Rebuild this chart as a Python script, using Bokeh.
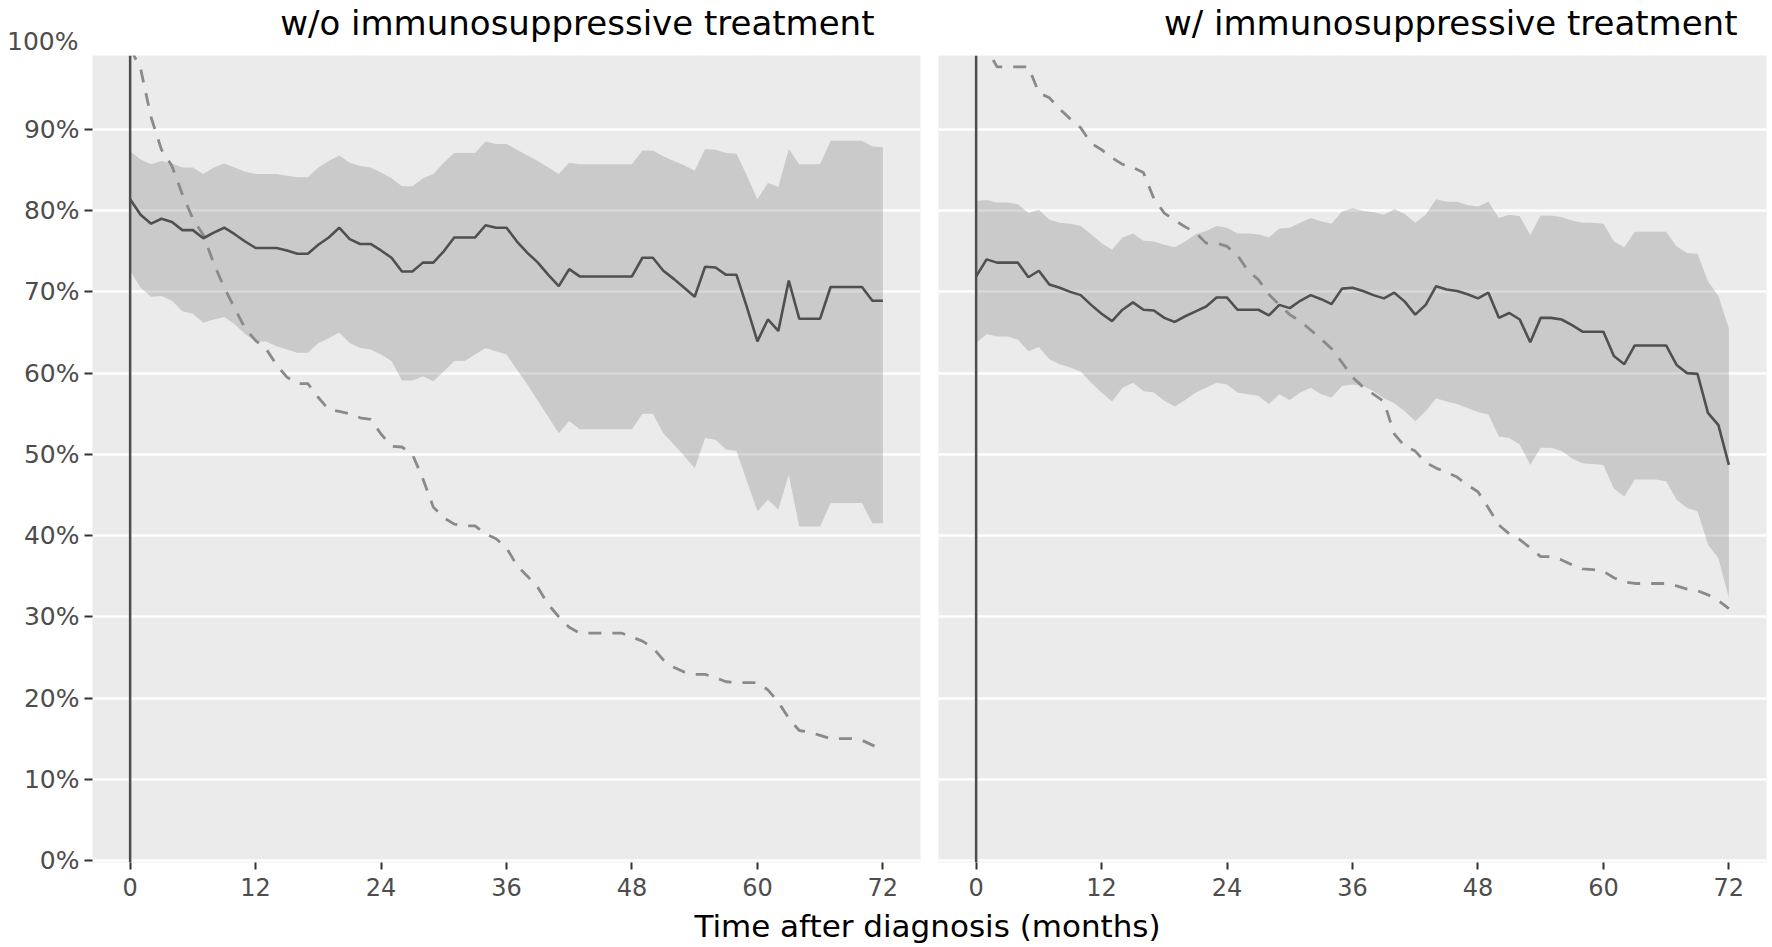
import numpy as np
from bokeh.plotting import figure
from bokeh.models import (FixedTicker, NumeralTickFormatter, Range1d, Span,
                          Label, ColumnDataSource)
from bokeh.layouts import row, column
from bokeh.embed import file_html
from bokeh.resources import INLINE

# ---------------- data ----------------
months = list(range(73))
x_ticks = [0, 12, 24, 36, 48, 60, 72]
y_ticks = [0.0, 0.1, 0.2, 0.3, 0.4, 0.5, 0.6, 0.7, 0.8, 0.9]
panel_titles = ["w/o immunosuppressive treatment", "w/ immunosuppressive treatment"]
x_label = "Time after diagnosis (months)"
top_label = "100%"
vline_at = 0

# left panel (w/o immunosuppressive treatment), values in %
wo_est = [81.4, 79.5, 78.4, 79.0, 78.6, 77.6, 77.6, 76.6, 77.3, 77.9, 77.1, 76.2, 75.4,
          75.4, 75.4, 75.1, 74.7, 74.7, 75.8, 76.7, 77.9, 76.5, 75.9, 75.9, 75.1,
          74.2, 72.5, 72.5, 73.6, 73.6, 75.0, 76.7, 76.7, 76.7, 78.2, 77.9, 77.9,
          76.2, 74.8, 73.6, 72.1, 70.7, 72.8, 71.9, 71.9, 71.9, 71.9, 71.9, 71.9,
          74.2, 74.2, 72.6, 71.6, 70.5, 69.4, 73.1, 73.0, 72.1, 72.1, 68.1, 63.9,
          66.6, 65.2, 71.4, 66.7, 66.7, 66.7, 70.6, 70.6, 70.6, 70.6, 68.9, 68.9]
wo_upper = [87.3, 86.3, 85.7, 86.1, 85.8, 85.3, 85.3, 84.5, 85.3, 85.8, 85.3, 84.8, 84.5,
            84.5, 84.5, 84.3, 84.1, 84.1, 85.3, 86.1, 86.8, 85.9, 85.5, 85.3, 84.7,
            84.0, 83.0, 83.0, 84.0, 84.5, 85.9, 87.1, 87.1, 87.1, 88.5, 88.2, 88.2,
            87.5, 86.8, 86.1, 85.3, 84.5, 85.9, 85.7, 85.7, 85.7, 85.7, 85.7, 85.7,
            87.4, 87.4, 86.7, 86.1, 85.6, 84.9, 87.6, 87.5, 87.1, 87.0, 84.3, 81.4,
            83.4, 82.9, 87.6, 85.7, 85.7, 85.7, 88.6, 88.6, 88.6, 88.6, 87.9, 87.8]
wo_lower = [72.6, 70.5, 69.4, 69.5, 68.9, 67.6, 67.3, 66.2, 66.6, 66.9, 66.0, 64.8, 63.9,
            63.9, 63.3, 62.9, 62.5, 62.5, 63.7, 64.3, 65.0, 63.7, 63.1, 62.9, 62.3,
            61.5, 59.1, 59.1, 59.6, 59.0, 60.2, 61.5, 61.5, 62.3, 63.1, 62.7, 62.3,
            60.4, 58.6, 56.6, 54.6, 52.6, 54.1, 53.1, 53.1, 53.1, 53.1, 53.1, 53.1,
            55.0, 55.0, 52.6, 51.2, 49.8, 48.3, 52.0, 51.8, 50.6, 50.4, 46.7, 43.0,
            44.4, 43.2, 47.5, 41.1, 41.1, 41.1, 44.0, 44.0, 44.0, 44.0, 41.5, 41.5]
wo_ref = [100.0, 97.5, 91.5, 87.5, 85.5, 82.0, 79.0, 77.0, 73.5, 70.5, 68.0, 65.5, 64.0,
          63.0, 61.0, 59.5, 58.7, 58.7, 57.0, 55.5, 55.3, 55.0, 54.5, 54.3, 52.5,
          51.0, 50.9, 50.0, 47.0, 43.5, 42.2, 41.4, 41.2, 41.2, 40.2, 39.6, 38.5,
          36.3, 35.0, 33.6, 31.5, 30.0, 28.7, 28.0, 28.0, 28.0, 28.0, 28.0, 27.5,
          27.0, 26.2, 24.7, 23.8, 23.2, 22.9, 22.9, 22.5, 22.0, 21.9, 21.9, 21.9,
          21.0, 19.5, 17.5, 16.0, 15.8, 15.4, 15.0, 15.0, 15.0, 14.8, 14.2, 13.6]

# right panel (w/ immunosuppressive treatment), values in %
w_est = [71.9, 74.0, 73.6, 73.6, 73.6, 71.8, 72.6, 70.9, 70.5, 70.0, 69.6, 68.4, 67.3,
         66.4, 67.8, 68.7, 67.8, 67.7, 66.8, 66.3, 67.0, 67.6, 68.2, 69.3, 69.3,
         67.8, 67.8, 67.8, 67.1, 68.4, 68.0, 68.9, 69.6, 69.1, 68.5, 70.4, 70.5,
         70.1, 69.6, 69.2, 69.9, 68.8, 67.2, 68.4, 70.7, 70.3, 70.1, 69.7, 69.2,
         69.9, 66.8, 67.4, 66.6, 63.8, 66.8, 66.8, 66.6, 65.9, 65.1, 65.1, 65.1,
         62.1, 61.1, 63.4, 63.4, 63.4, 63.4, 61.0, 60.0, 59.9, 55.1, 53.6, 48.7]
w_upper = [81.2, 81.3, 81.0, 81.0, 80.8, 79.7, 80.1, 78.9, 78.5, 78.4, 78.1, 77.1, 76.0,
           75.2, 76.7, 77.2, 76.3, 76.2, 75.8, 75.5, 76.2, 77.1, 77.5, 78.1, 77.9,
           77.2, 77.2, 77.1, 76.7, 77.8, 77.9, 78.5, 79.1, 78.7, 78.4, 79.9, 80.3,
           80.0, 79.8, 79.5, 80.2, 79.6, 78.5, 79.5, 81.4, 81.1, 81.1, 80.7, 80.5,
           81.1, 79.1, 79.5, 79.3, 77.0, 79.4, 79.4, 79.2, 78.8, 78.5, 78.5, 78.4,
           76.2, 75.5, 77.4, 77.4, 77.4, 77.4, 75.6, 74.8, 74.7, 71.3, 69.5, 65.5]
w_lower = [63.7, 64.8, 64.5, 64.5, 64.1, 62.7, 63.2, 61.7, 61.1, 60.7, 60.2, 58.8, 57.6,
           56.5, 58.2, 58.8, 57.8, 57.6, 56.6, 55.9, 56.7, 57.6, 58.2, 58.8, 58.6,
           57.6, 57.4, 57.2, 56.2, 57.4, 56.7, 57.6, 58.2, 57.4, 57.0, 58.4, 58.6,
           58.4, 57.8, 56.9, 56.3, 55.3, 54.1, 55.3, 56.9, 56.5, 56.2, 55.7, 55.2,
           54.9, 52.2, 52.0, 51.2, 48.7, 50.8, 50.8, 50.4, 49.5, 48.9, 48.8, 48.7,
           45.8, 44.8, 46.9, 46.9, 46.9, 46.7, 44.4, 43.4, 43.0, 38.9, 37.2, 32.3]
w_ref = [100.0, 100.0, 97.7, 97.7, 97.7, 97.7, 94.5, 93.9, 92.5, 91.3, 90.2, 88.3, 87.5,
         86.5, 85.7, 85.3, 84.7, 81.5, 79.7, 78.8, 78.0, 77.3, 76.0, 76.0, 75.6,
         74.5, 72.6, 71.5, 69.7, 68.4, 67.2, 66.4, 65.3, 64.2, 63.0, 61.3, 59.5,
         58.3, 57.4, 56.5, 52.5, 51.0, 50.4, 49.0, 48.3, 47.8, 47.2, 46.2, 45.4,
         43.4, 41.3, 40.2, 39.5, 38.5, 37.4, 37.4, 37.0, 36.4, 35.9, 35.8, 35.6,
         34.8, 34.3, 34.1, 34.1, 34.1, 34.1, 33.8, 33.4, 33.2, 32.7, 32.0, 31.0]

# ---------------- styling / layout ----------------
PAGE_W = 1772
PANEL_BG = "#EBEBEB"
TICK_FONT = "DejaVu Sans"
TICK_COLOR = "#4D4D4D"
TITLE_FONT = "DejaVu Sans"
FRAME_W = 828
FRAME_H = 807
HEADER_H = 55
MAIN_BOTTOM = 44
FOOTER_H = 947 - HEADER_H - FRAME_H - MAIN_BOTTOM
X_RANGE = (-3.6, 75.6)
Y_RANGE = (-0.0025, 0.991)


def blank_strip(height):
    s = figure(width=PAGE_W, height=height, x_range=Range1d(0, PAGE_W),
               y_range=Range1d(0, height), output_backend="svg",
               toolbar_location=None, x_axis_location=None, y_axis_location=None,
               min_border=0)
    s.xgrid.visible = False
    s.ygrid.visible = False
    s.outline_line_color = None
    s.background_fill_color = "white"
    s.border_fill_color = "white"
    return s


def make_panel(est, upper, lower, ref, show_y):
    src = ColumnDataSource(dict(
        x=months,
        est=np.array(est) / 100.0,
        up=np.array(upper) / 100.0,
        lo=np.array(lower) / 100.0,
        ref=np.array(ref) / 100.0,
    ))
    p = figure(
        frame_width=FRAME_W, frame_height=FRAME_H,
        x_range=Range1d(*X_RANGE), y_range=Range1d(*Y_RANGE),
        output_backend="svg", toolbar_location=None,
        y_axis_location="left" if show_y else None,
        min_border_top=0, min_border_bottom=MAIN_BOTTOM,
        min_border_left=92 if show_y else 9,
        min_border_right=9 if show_y else 6,
    )
    p.background_fill_color = PANEL_BG
    p.border_fill_color = "white"
    p.outline_line_color = None

    p.xgrid.visible = False
    p.ygrid.ticker = FixedTicker(ticks=y_ticks)
    p.ygrid.grid_line_color = "white"
    p.ygrid.grid_line_width = 2.5
    p.ygrid.minor_grid_line_color = None

    xa = p.xaxis[0]
    xa.ticker = FixedTicker(ticks=x_ticks)
    xa.axis_line_color = None
    xa.major_tick_line_color = "#333333"
    xa.major_tick_line_width = 2
    xa.major_tick_out = 7
    xa.major_tick_in = 0
    xa.minor_tick_line_color = None
    xa.major_label_text_font = TICK_FONT
    xa.major_label_text_font_size = "24px"
    xa.major_label_text_color = TICK_COLOR
    xa.major_label_standoff = 8

    if show_y:
        ya = p.yaxis[0]
        ya.ticker = FixedTicker(ticks=y_ticks)
        ya.formatter = NumeralTickFormatter(format="0%")
        ya.axis_line_color = None
        ya.major_tick_line_color = "#333333"
        ya.major_tick_line_width = 2
        ya.major_tick_out = 8
        ya.major_tick_in = 0
        ya.minor_tick_line_color = None
        ya.major_label_text_font = TICK_FONT
        ya.major_label_text_font_size = "25px"
        ya.major_label_text_color = TICK_COLOR
        ya.major_label_standoff = 5

    p.varea(x="x", y1="lo", y2="up", source=src, fill_color="#7F7F7F", fill_alpha=0.3)
    p.line(x="x", y="ref", source=src, line_color="#8A8A8A", line_width=2.8,
           line_dash="13 11")
    p.line(x="x", y="est", source=src, line_color="#505050", line_width=2.6)
    p.add_layout(Span(location=vline_at, dimension="height", line_color="#4D4D4D",
                      line_width=2.5))
    return p


# header strip: panel titles and the "100%" label
header = blank_strip(HEADER_H)
for tx, txt in ((874, panel_titles[0]), (1737, panel_titles[1])):
    header.add_layout(Label(x=tx, y=33, x_units="screen", y_units="screen",
                            text=txt, text_align="right", text_baseline="alphabetic",
                            text_font=TITLE_FONT, text_font_size="34px",
                            text_color="black"))
header.add_layout(Label(x=78, y=14, x_units="screen", y_units="screen",
                        text=top_label, text_align="right", text_baseline="alphabetic",
                        text_font=TICK_FONT, text_font_size="25px",
                        text_color=TICK_COLOR))

p_left = make_panel(wo_est, wo_upper, wo_lower, wo_ref, True)
p_right = make_panel(w_est, w_upper, w_lower, w_ref, False)

# footer strip: shared x-axis title
footer = blank_strip(FOOTER_H)
footer.add_layout(Label(x=927, y=22, x_units="screen", y_units="screen",
                        text=x_label, text_align="center", text_baseline="alphabetic",
                        text_font=TITLE_FONT, text_font_size="31px",
                        text_color="black"))

layout = column(header, row(p_left, p_right, spacing=0), footer, spacing=0)

open("out.html", "w").write(file_html(layout, INLINE))
